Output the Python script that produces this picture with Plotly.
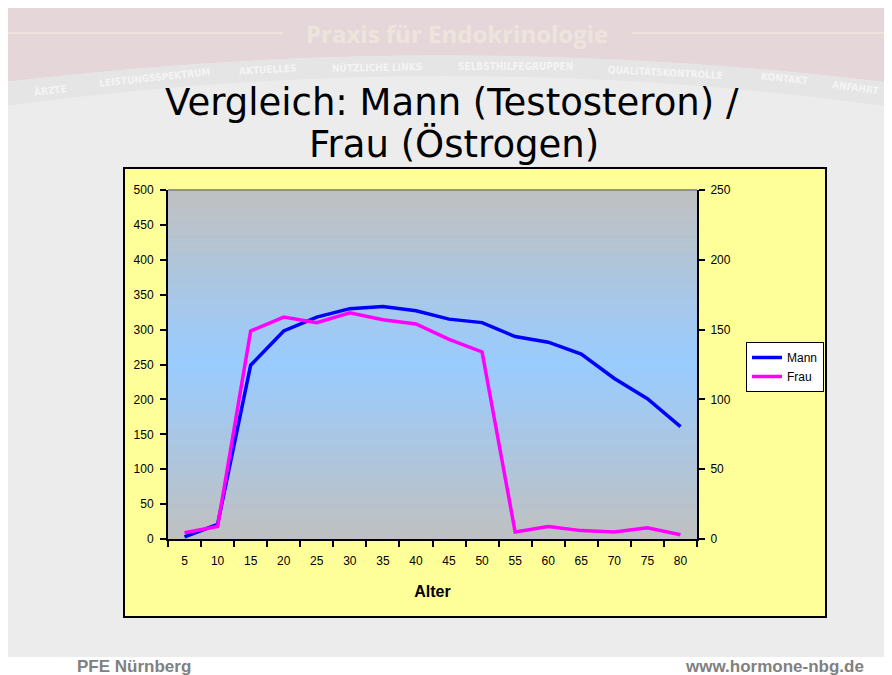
import plotly.graph_objects as go

ages = ["5", "10", "15", "20", "25", "30", "35", "40", "45", "50", "55", "60", "65", "70", "75", "80"]
mann = [3, 21, 249, 298, 318, 330, 333, 327, 315, 310, 290, 282, 265, 230, 201, 161]
frau = [4.5, 9, 149, 159, 155, 162, 157, 154, 143, 134, 5, 9, 6, 5, 8, 3]
left_ticks = [0, 50, 100, 150, 200, 250, 300, 350, 400, 450, 500]
right_ticks = [0, 50, 100, 150, 200, 250]

# page body has an 8px margin: figure drawn from (8,8) in window coordinates
OFF = 8
W, H = 892 - OFF, 675 - OFF
L, R, T, B = 168, 697, 190, 539  # plot area in window coordinates


def X(px):
    return (px - L) / (R - L)


def Y(py):
    return (B - py) / (B - T)


fig = go.Figure()
fig.add_trace(go.Scatter(x=ages, y=mann, name="Mann", mode="lines",
                         line=dict(color="#0000ff", width=3.5)))
fig.add_trace(go.Scatter(x=ages, y=frau, name="Frau", mode="lines", yaxis="y2",
                         line=dict(color="#ff00ff", width=3.5)))

shapes = []
# slide background
shapes.append(dict(type="rect", xref="paper", yref="paper", x0=X(6), x1=X(900), y0=Y(8), y1=Y(657),
                   fillcolor="#ececec", line=dict(width=0), layer="below"))


def ctrl(yl, ym, yr):
    return (4 * ym - yl - yr) / 2


c_top = ctrl(82, 55, 82)
shapes.append(dict(type="path", xref="paper", yref="paper", layer="below",
                   path=f"M {X(6)},{Y(8)} L {X(900)},{Y(8)} L {X(900)},{Y(84)} Q {X(453)},{Y(c_top)} {X(6)},{Y(82)} Z",
                   fillcolor="#e5d7d9", line=dict(width=0)))
c_bot = ctrl(106, 76, 108)
shapes.append(dict(type="path", xref="paper", yref="paper", layer="below",
                   path=f"M {X(6)},{Y(82)} Q {X(453)},{Y(c_top)} {X(900)},{Y(84)} L {X(900)},{Y(108)} Q {X(453)},{Y(c_bot)} {X(6)},{Y(106)} Z",
                   fillcolor="#e5e5e5", line=dict(width=0)))
# header lines
shapes.append(dict(type="line", xref="paper", yref="paper", layer="below",
                   x0=X(6), x1=X(283), y0=Y(33), y1=Y(33), line=dict(color="#efe6dc", width=1.5)))
shapes.append(dict(type="line", xref="paper", yref="paper", layer="below",
                   x0=X(632), x1=X(900), y0=Y(33), y1=Y(33), line=dict(color="#efe6dc", width=1.5)))
# yellow chart box
shapes.append(dict(type="rect", xref="paper", yref="paper", x0=X(124), x1=X(826), y0=Y(168), y1=Y(617),
                   fillcolor="#ffff99", line=dict(color="black", width=2), layer="below"))
# gradient plot area
n = 70
c1 = (192, 192, 192)
c2 = (153, 204, 255)
for i in range(n):
    t = (i + 0.5) / n
    f = 1 - abs(2 * t - 1)
    col = tuple(int(round(c1[k] + (c2[k] - c1[k]) * f)) for k in range(3))
    shapes.append(dict(type="rect", xref="paper", yref="paper", x0=0, x1=1,
                       y0=i / n, y1=(i + 1) / n + 0.002,
                       fillcolor="rgb(%d,%d,%d)" % col, line=dict(width=0), layer="below"))
shapes.append(dict(type="line", xref="paper", yref="paper", x0=0, x1=1, y0=1, y1=1,
                   line=dict(color="#808080", width=1.5), layer="below"))


def ann(text, x, y, size, color, family, xanchor="center", angle=0):
    return dict(text=text, x=X(x), y=Y(y), xref="paper", yref="paper", xanchor=xanchor, yanchor="middle",
                showarrow=False, textangle=angle, font=dict(family=family, size=size, color=color))


annotations = [
    ann("<b>Praxis für Endokrinologie</b>", 457, 33, 24, "#efe4dd", "Open Sans, Arial"),
    ann("Vergleich: Mann (Testosteron) /", 452, 102, 37, "black", "DejaVu Sans, Verdana"),
    ann("Frau (Östrogen)", 454, 144, 37, "black", "DejaVu Sans, Verdana"),
    ann("<b>PFE Nürnberg</b>", 75, 666, 17, "#808080", "Arial, Liberation Sans", xanchor="left"),
    ann("<b>www.hormone-nbg.de</b>", 866, 666, 17, "#808080", "Arial, Liberation Sans", xanchor="right"),
]
menu = [("ÄRZTE", 50, 90, -7), ("LEISTUNGSSPEKTRUM", 155, 77, -6), ("AKTUELLES", 268, 69, -3),
        ("NÜTZLICHE LINKS", 377, 66, -1), ("SELBSTHILFEGRUPPEN", 515, 66, 0),
        ("QUALITÄTSKONTROLLE", 665, 71, 3), ("KONTAKT", 785, 79, 6), ("ANFAHRT", 855, 88, 8)]
for txt, mx, my, ang in menu:
    annotations.append(ann("<b>" + txt + "</b>", mx, my, 10, "#f4f4f4", "DejaVu Sans Condensed, Arial", angle=ang))

tickfont = dict(family="Arial, Liberation Sans", size=12, color="black")
fig.update_layout(
    width=W, height=H,
    margin=dict(l=L - OFF, r=W - (R - OFF), t=T - OFF, b=H - (B - OFF), pad=0),
    paper_bgcolor="white", plot_bgcolor="rgba(0,0,0,0)",
    shapes=shapes, annotations=annotations,
    showlegend=True,
    legend=dict(x=X(746), y=Y(342), xanchor="left", yanchor="top", bgcolor="white",
                bordercolor="black", borderwidth=1, font=dict(family="Arial, Liberation Sans", size=12, color="black"),
                itemwidth=30, tracegroupgap=0),
    xaxis=dict(type="category", range=[-0.5, len(ages) - 0.5], tickson="boundaries", ticks="outside",
               ticklen=6, tickwidth=2,
               tickcolor="black", showline=True, linecolor="black", linewidth=2, showgrid=False,
               tickfont=tickfont, ticklabelstandoff=10,
               title=dict(text="<b>Alter</b>", font=dict(family="Arial, Liberation Sans", size=16, color="black"), standoff=18)),
    yaxis=dict(range=[0, 500], tickvals=left_ticks, ticks="outside", ticklen=6, tickwidth=2,
               tickcolor="black", showline=True, linecolor="black", linewidth=2, showgrid=False,
               zeroline=False, tickfont=tickfont, ticklabelstandoff=4),
    yaxis2=dict(range=[0, 250], tickvals=right_ticks, overlaying="y", side="right", ticks="outside",
                ticklen=6, tickwidth=2, tickcolor="black", showline=True, linecolor="black", linewidth=2,
                showgrid=False, zeroline=False, tickfont=tickfont, ticklabelstandoff=3),
)

fig.write_html("out.html")
